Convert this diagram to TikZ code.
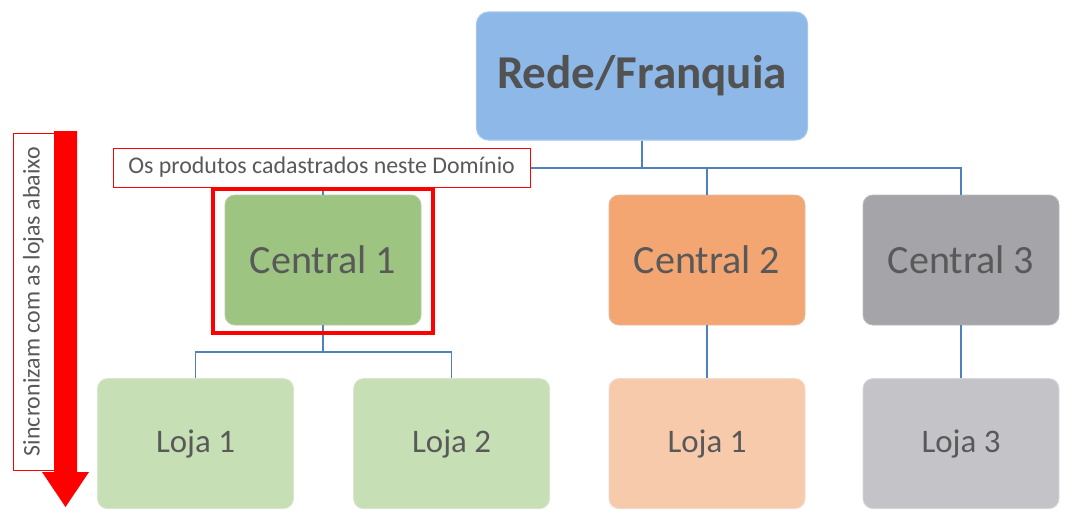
\documentclass[tikz,border=0pt]{standalone}
\usepackage{fontspec}
\setmainfont{Carlito}
\usepackage{tikz}
\usetikzlibrary{positioning, calc}
\definecolor{txtgray}{HTML}{595959}
\definecolor{redeblue}{HTML}{8DB8E7}
\definecolor{linkblue}{HTML}{4F81BD}
\definecolor{cgreen}{HTML}{9DC581}
\definecolor{corange}{HTML}{F4A672}
\definecolor{cgray}{HTML}{A5A5A9}
\definecolor{lgreen}{HTML}{C6DFB5}
\definecolor{lorange}{HTML}{F7CAAC}
\definecolor{lgray}{HTML}{C3C3C8}
\definecolor{alertred}{HTML}{FF0000}

\begin{document}
\begin{tikzpicture}[x=1cm, y=1cm,
    box/.style={rounded corners=0.25cm, minimum width=4.9cm, minimum height=3.25cm,
        text=txtgray, inner sep=0pt},
    central/.style={box, fill=#1, draw=#1!85!black!60, line width=0.6pt,
        font=\fontsize{28.5}{34}\selectfont},
    loja/.style={box, fill=#1, draw=#1!90!black!50, line width=0.6pt,
        font=\fontsize{23.4}{28}\selectfont},
    link/.style={draw=linkblue, line width=1.1pt},
    note/.style={draw=alertred, fill=white, text=txtgray, inner sep=0pt,
        font=\fontsize{17}{20}\selectfont}]
\useasboundingbox (0,0) rectangle (26.85,-12.975);

% top level
\node[rounded corners=0.3cm, minimum width=8.275cm, minimum height=3.2cm,
    fill=redeblue, draw=redeblue!80!white, line width=0.8pt, text=txtgray!92!black,
    font=\fontsize{33.5}{40}\bfseries\selectfont] (rede) at (16.05,-1.9) {Rede/Franquia};

% centrals
\node[central=cgreen] (c1) at (8.075,-6.5) {Central 1};
\node[central=corange] (c2) at (17.675,-6.5) {Central 2};
\node[central=cgray] (c3) at (24.025,-6.5) {Central 3};

% lojas
\node[loja=lgreen] (l1) at (4.8875,-11.09) {Loja 1};
\node[loja=lgreen] (l2) at (11.29,-11.09) {Loja 2};
\node[loja=lorange] (l1b) at (17.675,-11.09) {Loja 1};
\node[loja=lgray] (l3) at (24.025,-11.09) {Loja 3};

% connectors
\coordinate (bus) at (0,-4.2);
\coordinate (sub) at (0,-8.8);
\draw[link] (rede.south) -- (rede.south |- bus);
\draw[link] (c1.north) -- (c1.north |- bus) -- (c3.north |- bus) -- (c3.north);
\draw[link] (c2.north |- bus) -- (c2.north);
\draw[link] (c1.south) -- (c1.south |- sub);
\draw[link] (l1.north) -- (l1.north |- sub) -- (l2.north |- sub) -- (l2.north);
\draw[link] (c2.south) -- (l1b.north);
\draw[link] (c3.south) -- (l3.north);

% highlight
\node[note, line width=0.8pt, minimum width=10.425cm, minimum height=0.975cm]
    (dominio) at (8.04,-4.19) {Os produtos cadastrados neste Domínio};
\draw[alertred, line width=0.1cm]
    ([shift={(-0.28,0.13)}]c1.north west) rectangle ([shift={(0.28,-0.2)}]c1.south east);

% sync arrow
\fill[alertred] (1.35,-3.275) -- (1.925,-3.275) -- (1.925,-11.8) -- (2.225,-11.8)
    -- (1.6375,-12.675) -- (1.05,-11.8) -- (1.35,-11.8) -- cycle;
\node[note, line width=0.6pt, rotate=90, minimum width=8.425cm, minimum height=1.025cm]
    (sync) at (0.8375,-7.5375) {Sincronizam com as lojas abaixo};
\end{tikzpicture}
\end{document}
